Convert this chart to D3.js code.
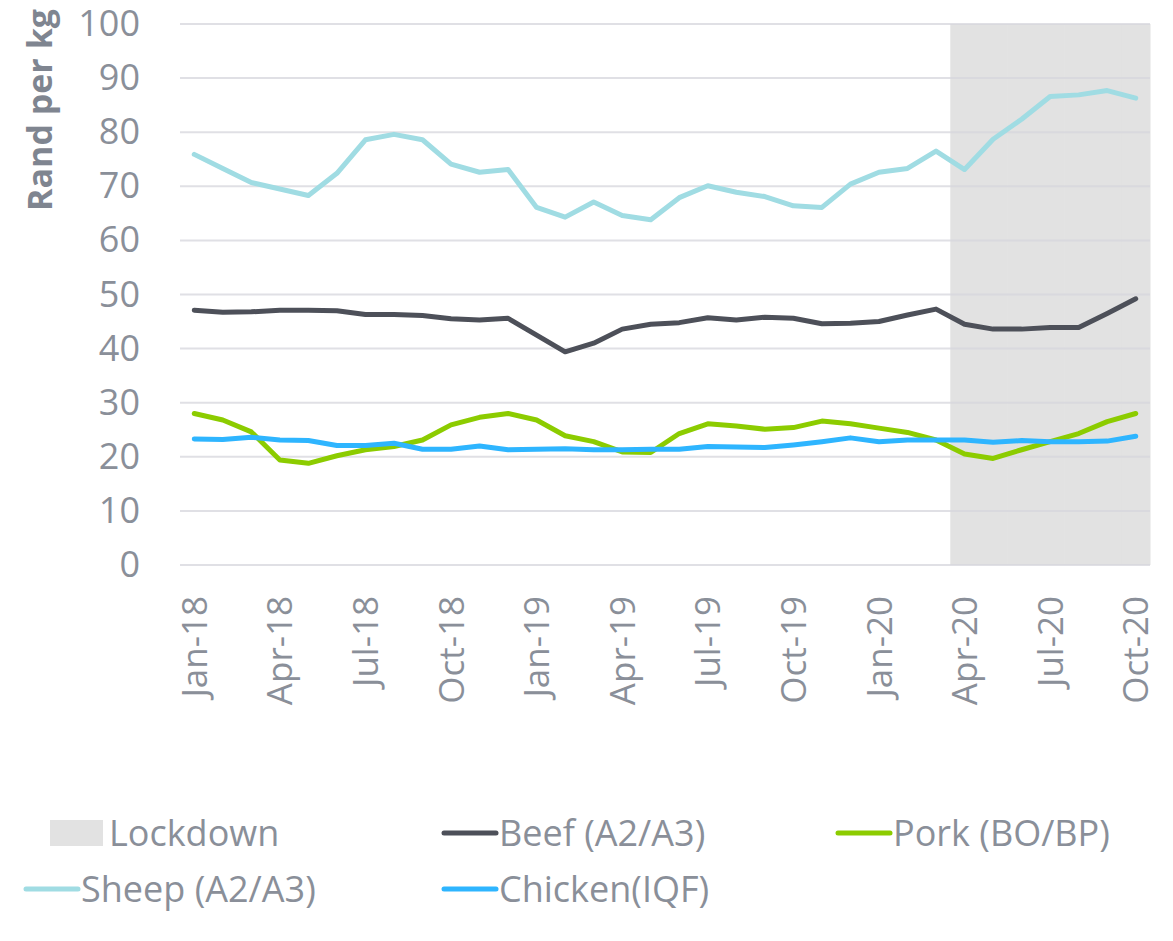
<!DOCTYPE html>
<html>
<head>
<meta charset="utf-8">
<script src="https://cdn.jsdelivr.net/npm/d3@7"></script>
<style>
  body { margin: 0; background: #fff; }
  svg { display: block; }
</style>
</head>
<body>
<div id="chart"></div>
<script>
const months = [
  "Jan-18","Feb-18","Mar-18","Apr-18","May-18","Jun-18","Jul-18","Aug-18","Sep-18","Oct-18","Nov-18","Dec-18",
  "Jan-19","Feb-19","Mar-19","Apr-19","May-19","Jun-19","Jul-19","Aug-19","Sep-19","Oct-19","Nov-19","Dec-19",
  "Jan-20","Feb-20","Mar-20","Apr-20","May-20","Jun-20","Jul-20","Aug-20","Sep-20","Oct-20"
];
const tickLabels = ["Jan-18","Apr-18","Jul-18","Oct-18","Jan-19","Apr-19","Jul-19","Oct-19","Jan-20","Apr-20","Jul-20","Oct-20"];
const lockdownMonths = ["Apr-20","May-20","Jun-20","Jul-20","Aug-20","Sep-20","Oct-20"];

const beef = [47.1,46.7,46.8,47.1,47.1,47.0,46.3,46.3,46.1,45.5,45.3,45.6,
  42.5,39.4,41.0,43.6,44.5,44.8,45.7,45.3,45.8,45.6,44.6,44.7,
  45.0,46.2,47.3,44.5,43.6,43.6,43.9,43.9,46.5,49.2];
const pork = [28.0,26.8,24.6,19.4,18.8,20.2,21.3,21.9,23.1,25.9,27.3,28.0,
  26.8,23.9,22.8,20.9,20.8,24.3,26.1,25.7,25.1,25.4,26.6,26.1,
  25.3,24.5,23.1,20.5,19.7,21.3,22.8,24.3,26.5,28.0];
const sheep = [75.9,73.3,70.7,69.5,68.3,72.4,78.6,79.6,78.6,74.1,72.6,73.1,
  66.1,64.3,67.1,64.6,63.8,67.9,70.1,68.9,68.1,66.4,66.1,70.4,
  72.6,73.3,76.5,73.1,78.7,82.4,86.6,86.9,87.7,86.3];
const chicken = [23.3,23.2,23.6,23.1,23.0,22.1,22.1,22.5,21.4,21.4,22.0,21.3,
  21.4,21.5,21.3,21.3,21.4,21.4,21.9,21.8,21.7,22.2,22.8,23.5,
  22.8,23.1,23.1,23.1,22.7,23.0,22.8,22.8,22.9,23.8];

const yTicks = [0,10,20,30,40,50,60,70,80,90,100];

const series = [
  {name: "Sheep (A2/A3)", values: sheep, color: "#a0dce3"},
  {name: "Beef (A2/A3)", values: beef, color: "#4d5059"},
  {name: "Pork (BO/BP)", values: pork, color: "#8ccc00"},
  {name: "Chicken(IQF)", values: chicken, color: "#2eb5ff"}
];

const width = 1173, height = 941;
const margin = {top: 24, right: 23, bottom: 376, left: 180};
const textColor = "#8a8f99";
const font = "'Open Sans', sans-serif";

const svg = d3.select("#chart").append("svg")
  .attr("width", width)
  .attr("height", height);

const x = d3.scaleBand()
  .domain(months)
  .range([margin.left, width - margin.right])
  .padding(0);

const y = d3.scaleLinear()
  .domain([0, 100])
  .range([height - margin.bottom, margin.top]);

// lockdown shading
svg.append("g")
  .selectAll("rect")
  .data(lockdownMonths)
  .join("rect")
  .attr("x", d => x(d))
  .attr("y", y(100))
  .attr("width", x.bandwidth() + 0.5)
  .attr("height", y(0) - y(100))
  .attr("fill", "#e2e2e2");

// gridlines
svg.append("g")
  .selectAll("line")
  .data(yTicks)
  .join("line")
  .attr("x1", margin.left)
  .attr("x2", width - margin.right)
  .attr("y1", d => y(d))
  .attr("y2", d => y(d))
  .attr("stroke", "#d6d6dc")
  .attr("stroke-opacity", 0.75)
  .attr("stroke-width", 2);

// y axis
const yAxis = svg.append("g")
  .attr("transform", `translate(${margin.left},0)`)
  .call(d3.axisLeft(y).tickValues(yTicks).tickSize(0).tickPadding(40));
yAxis.select(".domain").remove();
yAxis.selectAll("text")
  .attr("fill", textColor)
  .style("font-family", font)
  .style("font-size", "36px");

svg.append("text")
  .attr("transform", `translate(52,${margin.top + 86}) rotate(-90)`)
  .attr("text-anchor", "middle")
  .attr("fill", "#7f8590")
  .style("font-family", font)
  .style("font-weight", "bold")
  .style("font-size", "34px")
  .text("Rand per kg");

// x axis
const xAxis = svg.append("g")
  .attr("transform", `translate(0,${y(0)})`)
  .call(d3.axisBottom(x).tickValues(tickLabels).tickSize(0));
xAxis.select(".domain").remove();
xAxis.selectAll("text")
  .attr("fill", textColor)
  .attr("transform", "rotate(-90)")
  .attr("text-anchor", "end")
  .attr("x", -31)
  .attr("y", 0)
  .attr("dy", "0.36em")
  .style("font-family", font)
  .style("font-size", "35px");

// lines
const line = d3.line()
  .x((d, i) => x(months[i]) + x.bandwidth() / 2)
  .y(d => y(d));

svg.append("g")
  .selectAll("path")
  .data(series)
  .join("path")
  .attr("fill", "none")
  .attr("stroke", d => d.color)
  .attr("stroke-width", 5)
  .attr("stroke-linejoin", "round")
  .attr("stroke-linecap", "round")
  .attr("d", d => line(d.values));

// legend
const legendItems = [
  {name: "Lockdown", type: "rect", color: "#e2e2e2", x: 50, y: 833},
  {name: series[1].name, type: "line", color: series[1].color, x: 442, y: 833},
  {name: series[2].name, type: "line", color: series[2].color, x: 836, y: 833},
  {name: series[0].name, type: "line", color: series[0].color, x: 24, y: 889},
  {name: series[3].name, type: "line", color: series[3].color, x: 442, y: 889}
];

const leg = svg.append("g")
  .selectAll("g")
  .data(legendItems)
  .join("g")
  .attr("transform", d => `translate(${d.x},${d.y})`);

leg.filter(d => d.type === "rect").append("rect")
  .attr("x", 0).attr("y", -13)
  .attr("width", 53).attr("height", 26)
  .attr("fill", d => d.color);

leg.filter(d => d.type === "line").append("line")
  .attr("x1", 2).attr("x2", 54)
  .attr("y1", 0).attr("y2", 0)
  .attr("stroke", d => d.color)
  .attr("stroke-width", 5)
  .attr("stroke-linecap", "round");

leg.append("text")
  .attr("x", d => d.type === "rect" ? 59 : 57)
  .attr("y", 0)
  .attr("dy", "0.36em")
  .attr("fill", textColor)
  .style("font-family", font)
  .style("font-size", "36px")
  .text(d => d.name);
</script>
</body>
</html>
